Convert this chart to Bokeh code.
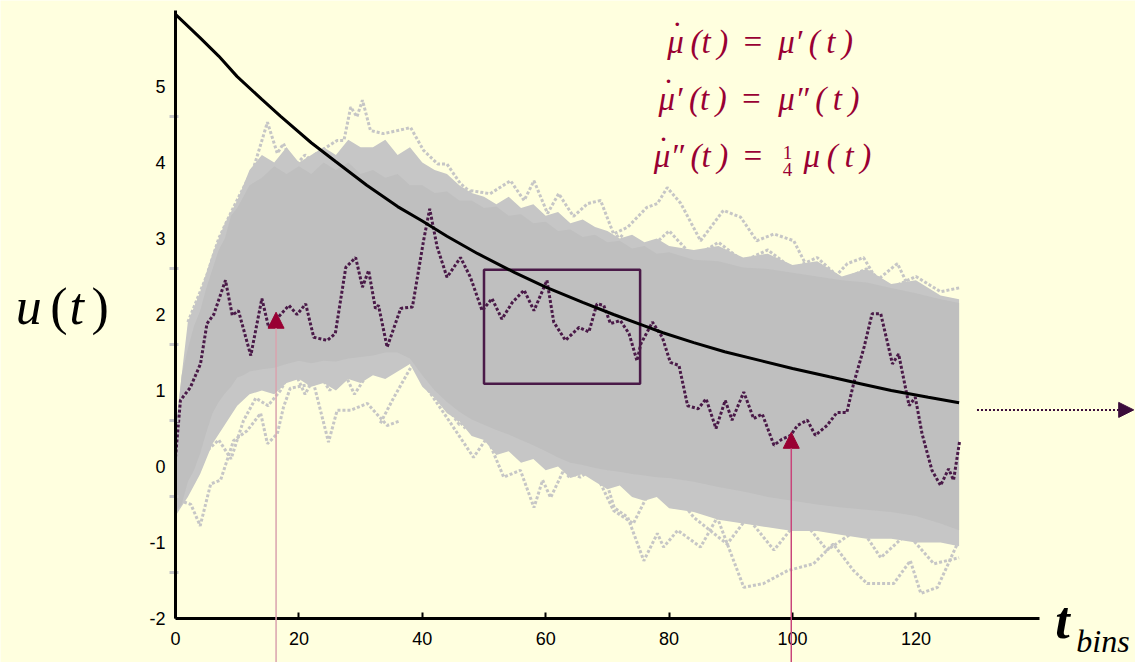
from bokeh.plotting import figure
from bokeh.models import LinearAxis, FixedTicker, Arrow, NormalHead, Label
from bokeh.embed import file_html
from bokeh.resources import INLINE

# ---------------- data ----------------
x_ticks = [0, 20, 40, 60, 80, 100, 120]
y_ticks = [-2, -1, 0, 1, 2, 3, 4, 5]
faint_ticks = [-1.4, -0.4, 0.6, 1.6, 2.6, 4.6]

# black mean curve
mean_t = [0, 4, 7, 10, 14, 17, 22, 26, 31, 36, 40, 44, 49, 55, 60, 66, 71, 76, 79, 84,
          89, 95, 100, 106, 111, 116, 122, 127]
mean_v = [5.95, 5.64, 5.40, 5.13, 4.83, 4.61, 4.26, 4.01, 3.70, 3.42, 3.23, 3.03, 2.80, 2.55,
          2.36, 2.16, 2.00, 1.85, 1.76, 1.63, 1.51, 1.39, 1.29, 1.18, 1.09, 1.00, 0.91, 0.84]

# highlighted (dark purple) trajectory
traj_t = [0, 0.8, 2.4, 4.05, 5.1, 6.2, 8.1, 9.2, 10.2, 12.2, 14.0, 15.1, 18.4, 19.7, 21.1,
          22.4, 24.6, 25.9, 27.6, 29.2, 30.3, 31.3, 32.4, 32.9, 34.3, 36.5, 38.4, 40.2, 41.2,
          42.4, 44.0, 46.2, 47.8, 49.7, 51.3, 52.9, 54.6, 56.5, 58.1, 60.2, 61.3, 63.2, 65.4,
          67.0, 68.3, 69.4, 70.5, 72.1, 73.5, 74.8, 75.4, 77.3, 78.9, 80.2, 81.6, 83.0, 84.7,
          86.0, 87.6, 89.1, 90.2, 92.1, 93.7, 95.1, 97.0, 98.3, 99.7, 100.8, 102.4, 103.7,
          105.6, 107.2, 108.8, 109.9, 111.6, 112.9, 114.3, 116.2, 117.2, 118.9, 119.9, 121.0,
          122.6, 124.0, 125.3, 126.1, 127.1]
traj_v = [0.12, 0.87, 1.04, 1.35, 1.88, 2.0, 2.45, 1.99, 2.05, 1.46, 2.21, 1.83, 2.12, 2.0,
          2.14, 1.70, 1.66, 1.75, 2.62, 2.75, 2.36, 2.58, 2.08, 2.12, 1.57, 2.08, 2.1, 2.97,
          3.39, 2.89, 2.49, 2.75, 2.49, 2.05, 2.21, 1.94, 2.16, 2.32, 2.05, 2.45, 1.90, 1.66,
          1.83, 1.77, 2.14, 2.12, 1.88, 1.92, 1.75, 1.39, 1.61, 1.90, 1.70, 1.37, 1.33, 0.80,
          0.76, 0.89, 0.50, 0.87, 0.61, 0.98, 0.63, 0.69, 0.28, 0.36, 0.41, 0.54, 0.61, 0.41,
          0.54, 0.71, 0.71, 1.09, 1.57, 2.01, 2.01, 1.35, 1.48, 0.80, 0.91, 0.43, -0.05, -0.25,
          -0.03, -0.18, 0.34]

# dense core of the grey ensemble (top and bottom edges)
core_t = [0, 1, 2, 3, 4, 5, 6, 7, 8, 9, 10, 11, 12, 14, 16, 18, 20, 22, 24, 26, 28, 30, 32,
          34, 36, 38, 40, 42, 44, 46, 48, 50, 52, 54, 56, 58, 60, 62, 64, 66, 68, 70, 72, 74,
          76, 78, 80, 84, 88, 92, 96, 100, 104, 108, 112, 116, 120, 124, 127]
core_hi = [0.4, 1.2, 1.55, 1.85, 2.05, 2.35, 2.6, 2.85, 3.0, 3.3, 3.4, 3.55, 3.7, 3.8, 3.95,
           3.85, 3.95, 3.85, 4.0, 3.9, 4.0, 3.85, 3.9, 3.8, 3.85, 3.7, 3.7, 3.6, 3.62, 3.5,
           3.5, 3.4, 3.42, 3.3, 3.32, 3.2, 3.22, 3.1, 3.12, 3.02, 3.05, 2.95, 2.97, 2.87, 2.9,
           2.8, 2.82, 2.72, 2.7, 2.62, 2.6, 2.55, 2.5, 2.45, 2.42, 2.35, 2.28, 2.2, 2.15]
core_lo = [-0.6, -0.5, -0.2, -0.05, 0.17, 0.45, 0.7, 0.85, 0.96, 1.05, 1.17, 1.2, 1.25, 1.28,
           1.3, 1.35, 1.39, 1.36, 1.39, 1.38, 1.42, 1.44, 1.46, 1.5, 1.5, 1.42, 1.2, 1.0, 0.85,
           0.72, 0.62, 0.55, 0.48, 0.42, 0.35, 0.28, 0.2, 0.12, 0.05, 0.02, -0.02, -0.05,
           -0.07, -0.1, -0.12, -0.14, -0.15, -0.2, -0.27, -0.33, -0.4, -0.45, -0.5, -0.54,
           -0.57, -0.6, -0.65, -0.75, -0.84]

# less dense halo of overlapping grey trajectories
halo_t = [0, 2, 4, 6, 8, 10, 12, 14, 16, 18, 20, 22, 24, 26, 28, 30, 32, 34, 36, 38, 40, 42,
          44, 46, 48, 50, 52, 54, 56, 58, 60, 62, 64, 66, 68, 70, 72, 74, 76, 78, 80, 84, 88,
          92, 96, 100, 104, 108, 112, 116, 120, 124, 127]
halo_hi = [0.5, 1.9, 2.3, 2.8, 3.2, 3.5, 3.9, 4.1, 4.0, 4.2, 4.0, 4.1, 4.2, 4.1, 4.3, 4.2,
           4.2, 4.3, 4.1, 4.2, 4.0, 3.9, 3.85, 3.7, 3.6, 3.55, 3.45, 3.55, 3.4, 3.45, 3.3,
           3.35, 3.2, 3.25, 3.15, 3.1, 3.0, 3.05, 2.95, 3.0, 2.9, 2.85, 2.9, 2.75, 2.8, 2.65,
           2.7, 2.5, 2.6, 2.4, 2.45, 2.25, 2.2]
halo_lo = [-0.65, -0.4, -0.1, 0.3, 0.55, 0.8, 0.95, 1.0, 0.95, 1.1, 1.15, 1.05, 1.1, 1.0,
           1.15, 1.1, 1.2, 1.15, 1.25, 1.35, 1.05, 0.9, 0.7, 0.6, 0.4, 0.35, 0.15, 0.2, 0.05,
           0.1, -0.05, 0.0, -0.15, -0.1, -0.2, -0.3, -0.25, -0.4, -0.45, -0.4, -0.55, -0.6,
           -0.7, -0.75, -0.8, -0.85, -0.85, -0.9, -0.95, -0.95, -1.0, -1.0, -1.05]

# individual outlying grey trajectories (upper fringe)
f1_t = [2, 5, 7, 9.4, 12.7, 14.9, 16.5, 17.5, 19.2, 21, 23]
f1_v = [1.9, 2.5, 3.0, 3.41, 3.94, 4.53, 4.12, 4.25, 3.94, 4.1, 3.95]
f2_t = [22.5, 26.2, 27.3, 28.4, 29.4, 30.3, 31.6, 33.7, 36, 38.1, 40.2, 42.5, 44, 46.2, 48]
f2_v = [4.1, 4.29, 4.29, 4.73, 4.6, 4.82, 4.42, 4.38, 4.42, 4.46, 4.16, 3.98, 3.98, 3.72, 3.6]
f3_t = [47.8, 51, 54.3, 56.5, 58.1, 60.3, 62.1, 64.5, 66.8, 68.9, 71, 73.3, 76.4, 78.1,
        79.7, 81.9, 85.1, 88.8, 91.6, 94.2, 97, 100.2, 102.4, 106.7, 108.9, 111.5, 113.7,
        117, 119.1, 124, 127]
f3_v = [3.63, 3.59, 3.76, 3.5, 3.76, 3.33, 3.59, 3.29, 3.46, 3.5, 3.06, 3.15, 3.41, 3.46,
        3.67, 3.46, 2.97, 3.37, 3.28, 2.97, 3.06, 2.97, 2.62, 2.48, 2.67, 2.75, 2.45, 2.67,
        2.32, 2.18, 2.16]
f4_t = [60, 64, 68, 72, 76, 80, 84, 88, 92, 96, 100, 104, 108, 112, 116, 120, 124, 127]
f4_v = [3.0, 3.2, 2.85, 3.05, 2.8, 3.1, 2.75, 2.95, 2.7, 2.85, 2.6, 2.75, 2.45, 2.6, 2.35,
        2.5, 2.3, 2.35]

# lower fringe
b1_t = [0, 0.8, 2.5, 4, 5.7, 7.3, 9.4, 11.6, 13.8, 14.9, 16.5, 17.5, 18.6, 22.4, 24.8,
        26.2, 28.4, 31.1, 34.3, 36.4]
b1_v = [-0.5, -0.45, -0.5, -0.78, -0.23, -0.18, 0.34, 0.47, 0.7, 0.3, 0.43, 0.78, 1.03,
        1.09, 0.32, 0.74, 0.74, 0.83, 0.54, 0.6]
b2_t = [33.2, 35.4, 38.6, 41, 44.6, 48.3, 50.5, 53.2, 55.9, 58.1, 59.5, 60.8, 62.9, 65.6,
        68.9, 71.1, 73.3, 75.9, 78.1, 79.1, 81.4, 85.1, 87.8, 92.1, 95.3, 99.2, 103.4,
        106.6, 109.9, 112.1, 116.4, 119.1, 120.8, 123.5, 126.7]
b2_v = [0.57, 0.91, 1.37, 1.0, 0.57, 0.12, 0.38, -0.14, -0.05, -0.54, -0.18, -0.41, -0.05,
        -0.14, 0.04, -0.54, -0.67, -1.24, -0.88, -1.06, -0.84, -1.06, -0.67, -1.59, -1.54,
        -1.37, -1.28, -1.02, -1.37, -1.54, -1.54, -1.24, -1.67, -1.59, -1.02]
b3_t = [63.5, 67, 71, 74.2, 77, 80.7, 84, 89.4, 92.7, 97, 101.3, 105.6, 111, 114.3, 118.6,
        122.9, 127]
b3_v = [-0.14, 0.1, -0.58, -0.75, -0.3, -0.32, -0.67, -1.02, -0.67, -1.1, -0.67, -1.1, -0.8,
        -1.2, -0.88, -1.28, -1.2]
b4_t = [3, 5, 7, 9, 11, 13, 15, 17, 19, 21, 23, 25, 27, 29, 31, 33, 35, 37, 39, 41, 43, 45, 47]
b4_v = [-0.2, 0.2, 0.35, 0.1, 0.6, 0.9, 0.8, 1.0, 1.3, 0.95, 1.25, 1.0, 1.3, 0.95, 1.2, 1.25,
        1.4, 1.6, 1.35, 1.1, 0.95, 0.7, 0.5]
b5_t = [40, 43, 46, 49, 52, 55, 58, 61, 64, 67, 70, 73, 76, 79, 82, 85, 88]
b5_v = [1.3, 0.9, 0.55, 0.7, 0.3, 0.45, 0.1, 0.35, 0.0, 0.25, -0.15, 0.0, -0.35, -0.1, -0.5,
        -0.3, -0.6]

fringe = [(f1_t, f1_v), (f2_t, f2_v), (f3_t, f3_v), (f4_t, f4_v),
          (b1_t, b1_v), (b2_t, b2_v), (b3_t, b3_v), (b4_t, b4_v), (b5_t, b5_v)]

# highlighted window
box_t = [50, 75.3]
box_v = [1.09, 2.59]

# marked time points (arrows) and their tips
arrow_t = [16.3, 99.8]
arrow_tip = [2.03, 0.45]
flow_v = 0.745

# ---------------- styling ----------------
BG = "#FFFFDF"
PURPLE = "#4A1A48"
CRIMSON = "#990033"
SERIF = "Liberation Serif"

p = figure(width=1135, height=662, x_range=(-28.363, 155.59), y_range=(-2.5789, 6.1316),
           output_backend="svg", toolbar_location=None,
           x_axis_location=None, y_axis_location=None, min_border=0,
           background_fill_color=BG, border_fill_color=BG, outline_line_color=None)
p.xgrid.visible = False
p.ygrid.visible = False

for ft, fv in fringe:
    p.line(ft, fv, line_color="#C6C6C6", line_width=3, line_dash="3 2")

p.varea(x=halo_t, y1=halo_lo, y2=halo_hi, fill_color="#C6C6C6")
p.varea(x=core_t, y1=core_lo, y2=core_hi, fill_color="#BFBFBF")

p.line(traj_t, traj_v, line_color=PURPLE, line_width=3, line_dash="3 2")
p.quad(left=[box_t[0]], right=[box_t[1]], bottom=[box_v[0]], top=[box_v[1]],
       fill_color=None, line_color=PURPLE, line_width=2.5)
p.line(mean_t, mean_v, line_color="black", line_width=3)

# axes
xaxis = LinearAxis(fixed_location=-2, bounds=(0, 140), ticker=FixedTicker(ticks=x_ticks),
                   axis_line_width=3, axis_line_color="black",
                   major_tick_in=6, major_tick_out=0, major_tick_line_width=2,
                   minor_tick_in=0, minor_tick_out=0,
                   major_label_text_font="Liberation Sans", major_label_text_font_size="18px",
                   major_label_text_color="black", major_label_standoff=13)
p.add_layout(xaxis, "below")

faint = LinearAxis(fixed_location=0, ticker=FixedTicker(ticks=faint_ticks),
                   axis_line_color=None, major_tick_in=3, major_tick_out=6,
                   major_tick_line_color="#C8C8C8", major_tick_line_width=3,
                   minor_tick_in=0, minor_tick_out=0, major_label_text_color=None)
p.add_layout(faint, "left")

yaxis = LinearAxis(fixed_location=0, bounds=(-2, 6), ticker=FixedTicker(ticks=y_ticks),
                   axis_line_width=3, axis_line_color="black",
                   major_tick_in=0, major_tick_out=0, minor_tick_in=0, minor_tick_out=0,
                   major_label_text_font="Liberation Sans", major_label_text_font_size="18px",
                   major_label_text_color="black", major_label_standoff=10,
                   major_label_overrides={-1: "-1", -2: "-2"})
p.add_layout(yaxis, "left")

# arrows pointing at the trajectory
for at, tip, col in zip(arrow_t, arrow_tip, ["#D9A3AE", "#C8457A"]):
    p.add_layout(Arrow(x_start=at, y_start=-2.58, x_end=at, y_end=tip,
                       line_color=col, line_width=1.5,
                       end=NormalHead(size=16, fill_color=CRIMSON, line_color=CRIMSON,
                                      line_width=1)))

p.add_layout(Arrow(x_start=129.9, y_start=flow_v, x_end=155.3, y_end=flow_v,
                   line_color="#3B0C3B", line_width=2, line_dash="2 2",
                   end=NormalHead(size=15, fill_color="#3B0C3B", line_color="#3B0C3B",
                                  line_width=1)))

# texts
def lab(x, y, text, size, style="italic", color="black", align="left", font=SERIF):
    p.add_layout(Label(x=x, y=y, text=text, text_font=font, text_font_size=size,
                       text_font_style=style, text_color=color, text_align=align,
                       text_baseline="alphabetic"))

lab(-25.9, 2.10, "u", "52px")
lab(-20.3, 2.10, "(", "52px", style="normal")
lab(-17.2, 2.10, "t", "52px")
lab(-13.6, 2.10, ")", "52px", style="normal")

lab(142.6, -2.03, "t", "52px", style="bold italic")
lab(146.0, -2.29, "bins", "32px")

TS = "\u2009"
EQ = "33px"
DOT = "\u02d9"
# line 1
lab(79.7, 5.59, "\u03bc" + TS + "(t" + TS + ")" + TS + TS + "=", EQ, color=CRIMSON)
lab(81.3, 5.69, DOT, EQ, style="normal", color=CRIMSON, align="center")
lab(97.7, 5.59, "\u03bc\u2032" + TS + "(" + TS + "t" + TS + ")", EQ, color=CRIMSON)
# line 2
lab(78.3, 4.84, "\u03bc\u2032" + TS + "(t" + TS + ")" + TS + TS + "=", EQ, color=CRIMSON)
lab(79.9, 4.94, DOT, EQ, style="normal", color=CRIMSON, align="center")
lab(97.7, 4.84, "\u03bc\u2033" + TS + "(" + TS + "t" + TS + ")", EQ, color=CRIMSON)
# line 3
lab(77.5, 4.08, "\u03bc\u2033" + TS + "(t" + TS + ")" + TS + TS + "=", EQ, color=CRIMSON)
lab(79.1, 4.18, DOT, EQ, style="normal", color=CRIMSON, align="center")
lab(99.2, 4.13, "1", "19px", style="normal", color=CRIMSON, align="center")
lab(99.2, 3.91, "4", "19px", style="normal", color=CRIMSON, align="center")
lab(101.8, 4.08, "\u03bc" + TS + "(" + TS + "t" + TS + ")", EQ, color=CRIMSON)

open("out.html", "w").write(file_html(p, INLINE))
